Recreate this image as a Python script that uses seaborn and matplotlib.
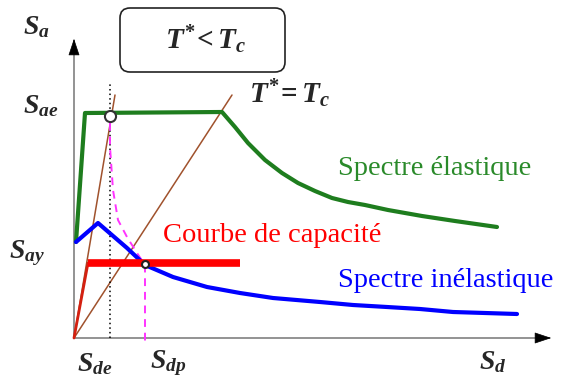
import matplotlib
matplotlib.use("Agg")
import matplotlib.pyplot as plt
from matplotlib.patches import FancyBboxPatch
import seaborn as sns
import pandas as pd

# Spectral displacement (Sd) / spectral acceleration (Sa) values, chart units
elastic_sd = [2, 11, 148, 161, 174, 191, 208, 224, 241, 258, 274, 291, 314,
              348, 381, 423]
elastic_sa = [96, 225, 226, 211, 195, 178, 165, 155, 147, 140, 136, 133, 128,
              122, 117, 111]

inelastic_sd = [2, 24, 53, 71, 99, 133, 166, 199, 246, 279, 313, 346, 379, 443]
inelastic_sa = [96, 115, 90, 73, 61, 51, 45, 40, 36, 33, 31, 29, 26, 24]

capacity_sd = [0, 14, 166]
capacity_sa = [0, 75, 75]

period_line_sd = [[0, 41], [0, 158]]      # T* line and T* = Tc line
period_line_sa = [[0, 243], [0, 243]]

projection_sd = [36, 36, 39, 44, 53, 63, 71, 71]
projection_sa = [215, 191, 148, 118, 101, 85, 73, -4]

sde, sae = 36, 222
sdp, say = 71, 74

sns.set_theme(style="white")
plt.rcParams["mathtext.fontset"] = "custom"
plt.rcParams["mathtext.it"] = "Liberation Serif:italic:bold"
plt.rcParams["mathtext.rm"] = "Liberation Serif:bold"
plt.rcParams["mathtext.bf"] = "Liberation Serif:bold"

fig = plt.figure(figsize=(5.69, 3.78), dpi=100)
ax = fig.add_axes([0, 0, 1, 1])
ax.set_xlim(-74, 495)
ax.set_ylim(-40, 338)
ax.axis("off")

green = "#1e7d1e"
blue = "#0000ff"
red = "#ff0000"
brown = "#a0522d"
magenta = "#ff33ff"

# axes with arrow heads
ax.plot([0, 0], [0, 297], color="#8a8a8a", lw=1.3, zorder=1)
ax.plot([0, 475], [0, 0], color="#8a8a8a", lw=1.3, zorder=1)
ax.annotate("", xy=(0, 302), xytext=(0, 288),
            arrowprops=dict(arrowstyle="-|>,head_width=0.3,head_length=0.9",
                            color="black", lw=0.5))
ax.annotate("", xy=(480, 0), xytext=(466, 0),
            arrowprops=dict(arrowstyle="-|>,head_width=0.3,head_length=0.9",
                            color="black", lw=0.5))

# period lines from the origin
for xs, ys in zip(period_line_sd, period_line_sa):
    ax.plot(xs, ys, color=brown, lw=1.1, zorder=2)

# dotted elastic displacement line
ax.plot([sde, sde], [0, 255], color="black", lw=1.1, ls=(0, (1, 2)), zorder=2)

# projection towards the performance point
ax.plot(projection_sd, projection_sa, color=magenta, lw=1.4,
        ls=(0, (4, 3)), zorder=2)

spec = pd.DataFrame({"Sd": elastic_sd, "Sa": elastic_sa})
sns.lineplot(data=spec, x="Sd", y="Sa", sort=False, color=green, lw=3,
             ax=ax, zorder=3)
inel = pd.DataFrame({"Sd": inelastic_sd, "Sa": inelastic_sa})
sns.lineplot(data=inel, x="Sd", y="Sa", sort=False, color=blue, lw=3,
             ax=ax, zorder=3)
for line in ax.lines[-2:]:
    line.set_solid_joinstyle("round")

# capacity curve: elastic branch then plateau
ax.plot(capacity_sd[:2], capacity_sa[:2], color="#d42010", lw=2, zorder=3)
ax.plot(capacity_sd[1:], capacity_sa[1:], color=red, lw=5.5,
        solid_capstyle="butt", zorder=3)

ax.plot([sde], [sae], marker="o", ms=8, mfc="white", mec="#333333",
        mew=1.5, zorder=5)
ax.plot([sdp], [say], marker="o", ms=5, mfc="white", mec="#222222",
        mew=1.5, zorder=5)

ax.set_xlabel("")
ax.set_ylabel("")

# box with the period condition
box = FancyBboxPatch((46, 266), 165, 64,
                     boxstyle="round,pad=0,rounding_size=10",
                     fc="white", ec="#222222", lw=1.2, zorder=4)
ax.add_patch(box)
ax.text(131, 298, r"$T^{*}\!< T_c$", fontsize=21, ha="center", va="center",
        zorder=5)
ax.text(215, 244, r"$T^{*}\!= T_c$", fontsize=21, ha="center", va="center")

serif = "Liberation Serif"
ax.text(264, 163, "Spectre élastique", color="#2a8a2a", fontsize=20.5,
        family=serif, ha="left", va="baseline")
ax.text(89, 96, "Courbe de capacité", color=red, fontsize=20.5,
        family=serif, ha="left", va="baseline")
ax.text(264, 51, "Spectre inélastique", color=blue, fontsize=20.5,
        family=serif, ha="left", va="baseline")

# axis symbols
ax.text(-38, 312, r"$S_a$", fontsize=20, ha="center", va="center")
ax.text(-33, 233, r"$S_{ae}$", fontsize=20, ha="center", va="center")
ax.text(-47, 85, r"$S_{ay}$", fontsize=20, ha="center", va="center")
ax.text(21, -25, r"$S_{de}$", fontsize=20, ha="center", va="center")
ax.text(94, -25, r"$S_{dp}$", fontsize=20, ha="center", va="center")
ax.text(419, -23, r"$S_d$", fontsize=20, ha="center", va="center")

fig.savefig("out.png", dpi=100)
